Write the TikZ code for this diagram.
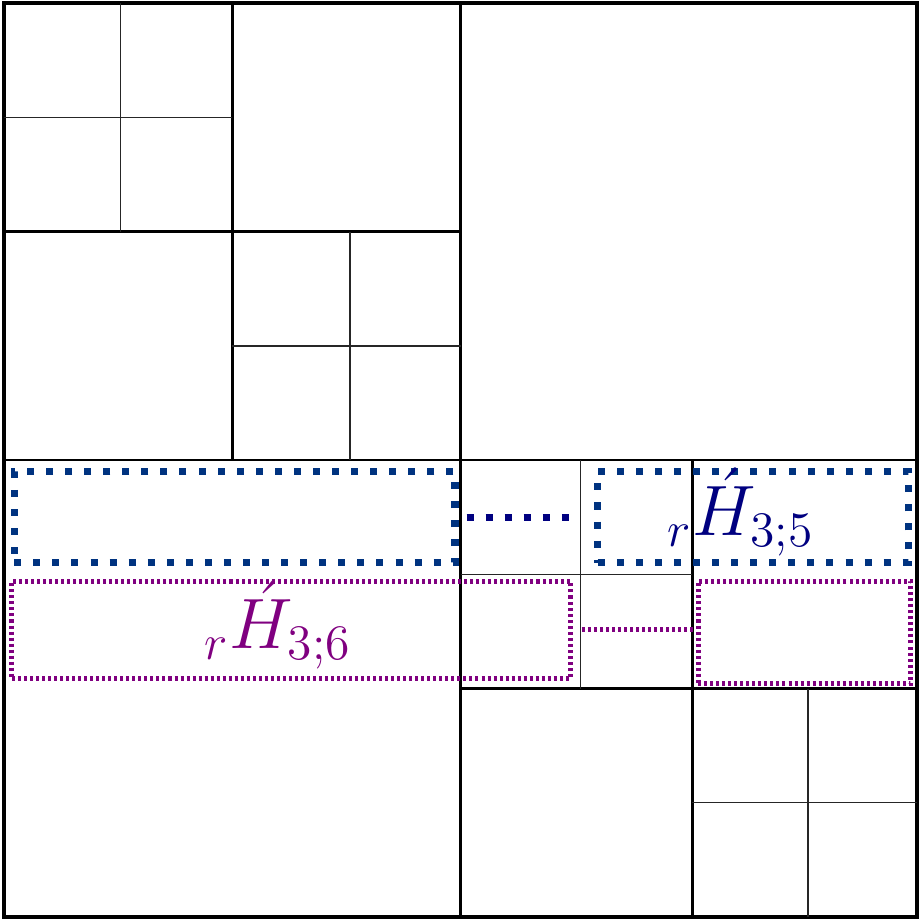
\documentclass[tikz,border=0pt]{standalone}
\usepackage{amsmath,amssymb}
\usepackage{tikz}
\usetikzlibrary{arrows.meta, positioning, calc}
\definecolor{boxblue}{HTML}{003380}
\definecolor{navyblue}{HTML}{000080}
\definecolor{boxpurple}{HTML}{800080}

\begin{document}
\begin{tikzpicture}[
    outerline/.style={line width=1pt},
    midline/.style={line width=0.65pt},
    fineline/.style={line width=0.4pt, black!85},
    bluebox/.style={rectangle, draw=boxblue, line width=1.75pt, dash pattern=on 1.75pt off 3pt, inner sep=0pt},
    purplebox/.style={rectangle, draw=boxpurple, line width=1.25pt, dash pattern=on 0.75pt off 0.75pt, inner sep=0pt},
    hlabel/.style={inner sep=0pt, anchor=base west, font=\LARGE, scale=1.03, transform shape}]

  \useasboundingbox (-0.035,-0.045) rectangle (8.026,8.03);

  % Blocks of the partition
  \draw[outerline] (0,0) rectangle (8,8);
  \draw[midline] (4,0) -- (4,8) (0,4) -- (8,4);
  \draw[midline] (2,4) -- (2,8) (0,6) -- (4,6);
  \draw[midline] (6.03,0) -- (6.03,4) (4,2) -- (8,2);
  \draw[fineline] (1.02,6) -- (1.02,8) (0,7) -- (2,7);
  \draw[fineline] (3.03,4) -- (3.03,6) (2,5) -- (4,5);
  \draw[fineline] (5.05,2) -- (5.05,4) (4,3) -- (6.03,3);
  \draw[fineline] (7.04,0) -- (7.04,2) (6.03,1) -- (8,1);

  % Row blocks, level 5
  \node[bluebox, minimum width=3.86cm, minimum height=0.8cm] (b1) at (2.02, 3.5) {};
  \node[bluebox, minimum width=2.72cm, minimum height=0.8cm] (b2) at (6.56, 3.5) {};

  % Row blocks, level 6
  \node[purplebox, minimum width=4.89cm, minimum height=0.85cm] (p1) at (2.515, 2.515) {};
  \node[purplebox, minimum width=1.86cm, minimum height=0.9cm] (p2) at (7.01, 2.49) {};

  \draw[navyblue, line width=1.75pt, dash pattern=on 1.75pt off 3pt, shorten <=0.07cm, shorten >=0.14cm] (b1.east) -- (b2.west);
  \draw[boxpurple, line width=1.25pt, dash pattern=on 0.75pt off 0.75pt, shorten <=0.08cm, shorten >=0.0cm] (p1.east) -- (p1.east -| p2.west);

  % Labels
  \node[hlabel, navyblue] (h35) at (5.8, 3.34) {${}_r\acute{H}_{3;5}$};
  \node[hlabel, boxpurple] (h36) at (1.75, 2.35) {${}_r\acute{H}_{3;6}$};
\end{tikzpicture}
\end{document}
